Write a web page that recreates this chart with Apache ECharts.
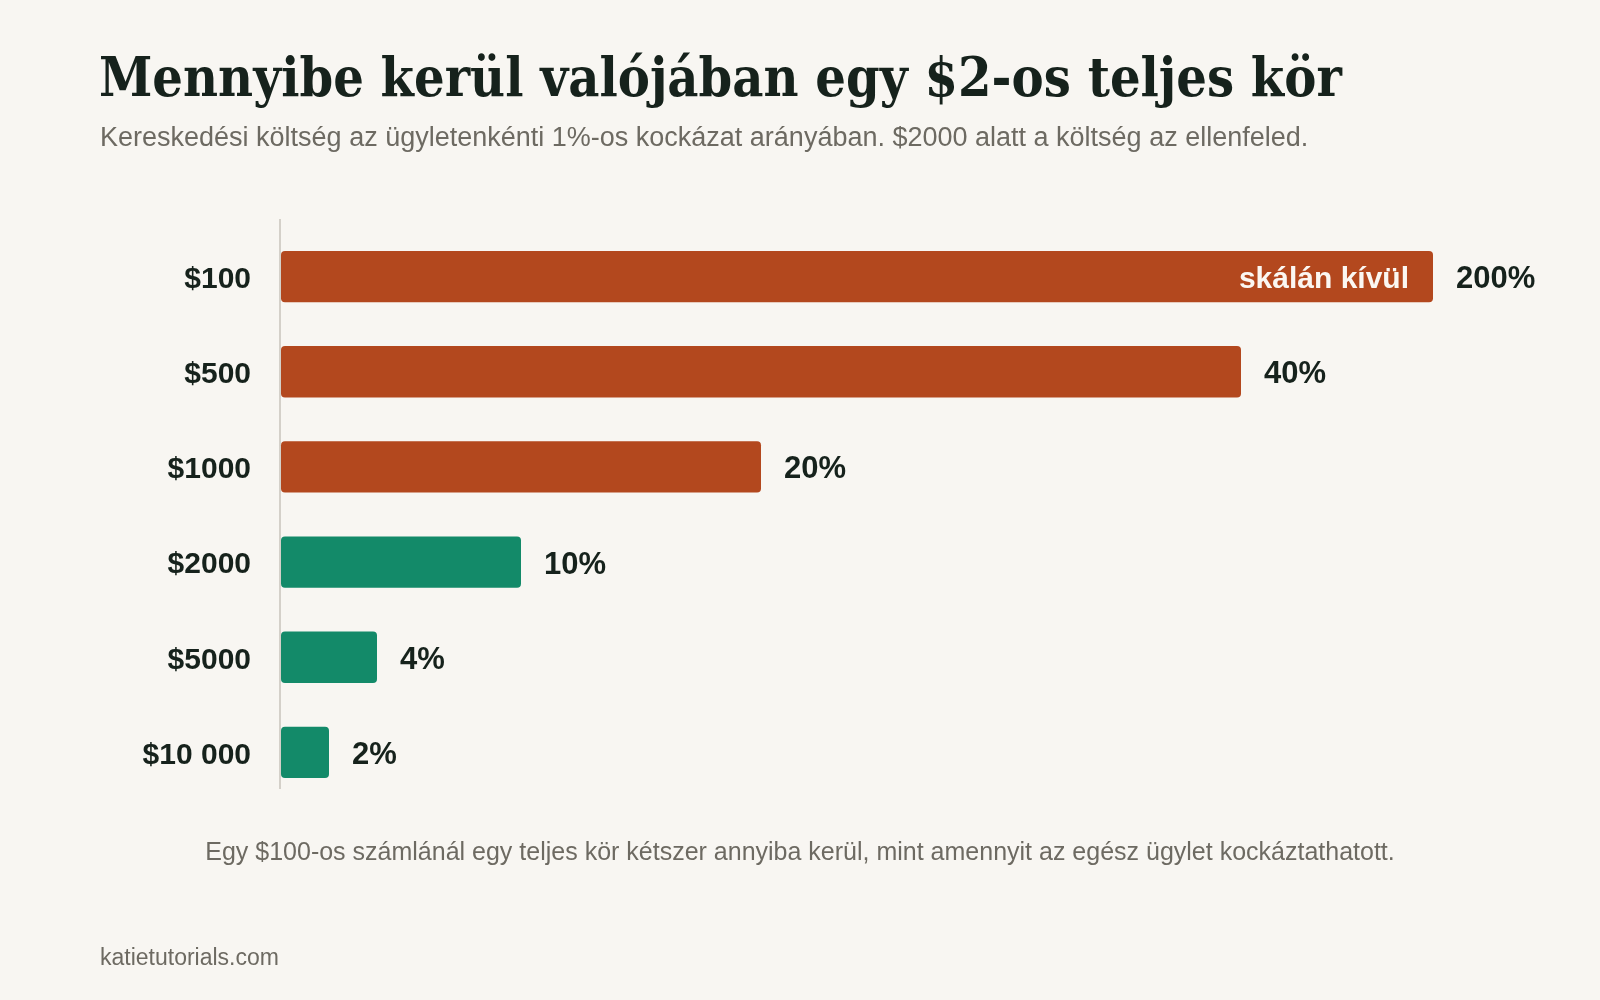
<!DOCTYPE html>
<html>
<head>
<meta charset="utf-8">
<script src="https://cdn.jsdelivr.net/npm/echarts@6/dist/echarts.min.js"></script>
<style>
html,body{margin:0;padding:0;background:#f8f6f2;}
#chart{width:1600px;height:1000px;}
</style>
</head>
<body>
<div id="chart"></div>
<script>
// ---- data ----
const accountSizes = ['$100', '$500', '$1000', '$2000', '$5000', '$10 000'];
const costPct = [200, 40, 20, 10, 4, 2];
const axisMax = 48;
const offScaleText = 'skálán kívül';
const titleText = 'Mennyibe kerül valójában egy $2-os teljes kör';
const subtitleText = 'Kereskedési költség az ügyletenkénti 1%-os kockázat arányában. $2000 alatt a költség az ellenfeled.';
const noteText = 'Egy $100-os számlánál egy teljes kör kétszer annyiba kerül, mint amennyit az egész ügylet kockáztathatott.';
const sourceText = 'katietutorials.com';

const RED = '#b3481e', GREEN = '#138a69', INK = '#16221c', GREY = '#6d6a62';
const SANS = '"Liberation Sans", Arial, sans-serif';
const SERIF = '"DejaVu Serif Condensed", "DejaVu Serif", serif';

// fit the title font size to the reference title width
function fitSize(text, family, weight, target, maxSize) {
  const c = document.createElement('canvas').getContext('2d');
  c.font = weight + ' 100px ' + family;
  const w = c.measureText(text).width;
  return Math.min(maxSize, 100 * target / w);
}
const titleSize = fitSize(titleText, SERIF, 'bold', 1243, 62);

const chart = echarts.init(document.getElementById('chart'), null, {renderer: 'canvas'});

chart.setOption({
  backgroundColor: '#f8f6f2',
  animation: false,
  title: [
    {text: titleText, left: 99, top: 98 - 0.81 * titleSize, padding: 0,
     textStyle: {fontFamily: SERIF, fontWeight: 'bold', fontSize: titleSize, color: INK}},
    {text: subtitleText, left: 100, top: 125, padding: 0,
     textStyle: {fontFamily: SANS, fontWeight: 'normal', fontSize: 27, color: GREY}},
    {text: noteText, left: 'center', top: 841, padding: 0,
     textStyle: {fontFamily: SANS, fontWeight: 'normal', fontSize: 25, color: GREY}},
    {text: sourceText, left: 100, top: 947, padding: 0,
     textStyle: {fontFamily: SANS, fontWeight: 'normal', fontSize: 23, color: GREY}}
  ],
  grid: {left: 281, top: 229, width: 1152, height: 571, containLabel: false},
  xAxis: {type: 'value', min: 0, max: axisMax, show: false},
  yAxis: {
    type: 'category', data: accountSizes, inverse: true,
    axisLine: {show: false}, axisTick: {show: false}, splitLine: {show: false},
    axisLabel: {
      margin: 30,
      formatter: v => '{a|' + v + '}',
      rich: {a: {padding: [6, 0, 0, 0], fontFamily: SANS, fontWeight: 'bold', fontSize: 30, color: INK}},
      fontFamily: SANS, fontWeight: 'bold', fontSize: 30, color: INK
    }
  },
  graphic: [{
    type: 'line', silent: true,
    shape: {x1: 280, y1: 219, x2: 280, y2: 789},
    style: {stroke: '#d4d0c9', lineWidth: 2}
  }],
  series: [
    {
      type: 'bar', data: costPct, barWidth: '54%', clip: true,
      itemStyle: {
        borderRadius: 4,
        color: p => p.value > 10 ? RED : GREEN
      },
      label: {
        show: true, position: 'right', distance: 23, offset: [0, 3],
        formatter: p => p.value + '%',
        fontFamily: SANS, fontWeight: 'bold', fontSize: 31, color: INK
      }
    },
    {
      type: 'bar', data: costPct, barWidth: '54%', barGap: '-100%', clip: true, silent: true,
      itemStyle: {color: 'rgba(0,0,0,0)'},
      label: {
        show: true, position: 'insideRight', distance: 24, offset: [0, 3],
        formatter: p => p.value > axisMax ? offScaleText : '',
        fontFamily: SANS, fontWeight: 'bold', fontSize: 30, color: '#fbf7f2'
      }
    }
  ]
});
</script>
</body>
</html>
